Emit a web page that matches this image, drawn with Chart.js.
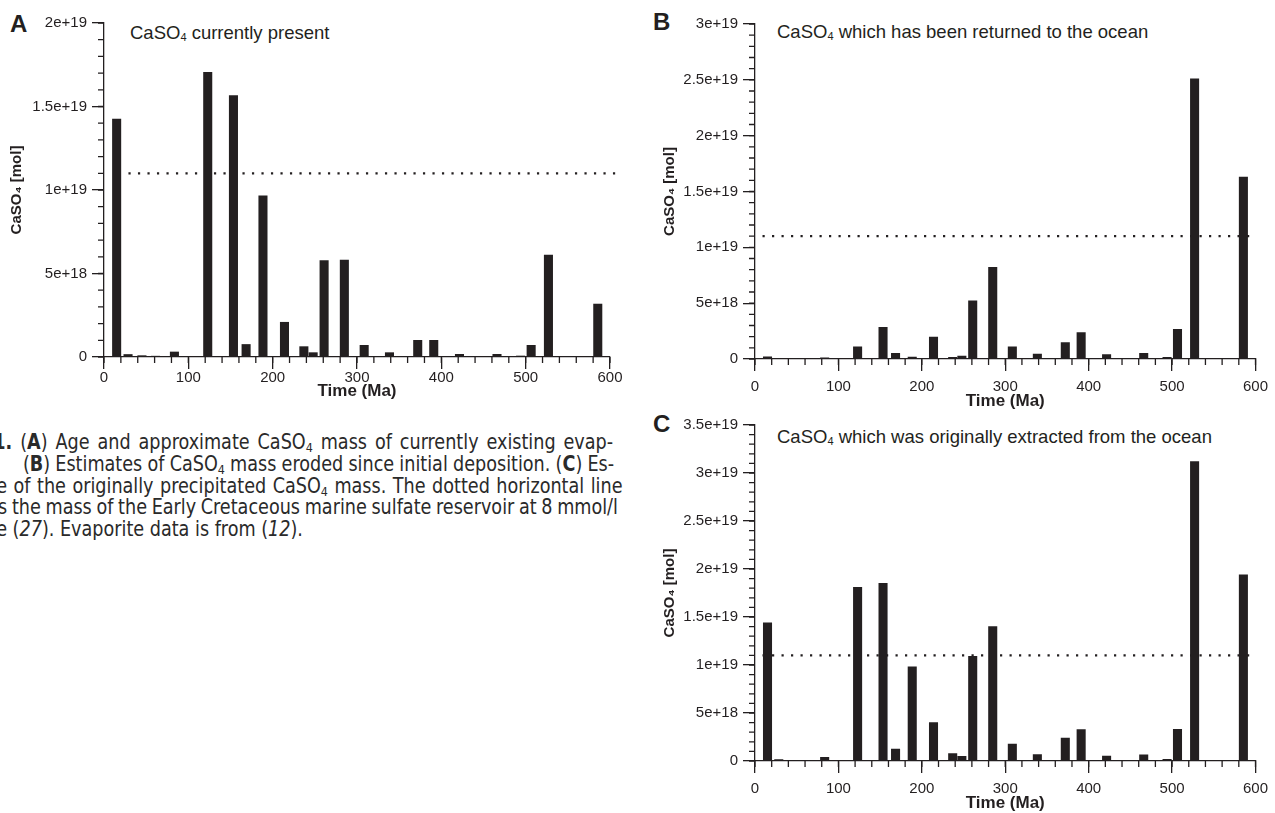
<!DOCTYPE html>
<html>
<head>
<meta charset="utf-8">
<script src="https://cdn.jsdelivr.net/npm/chart.js@4.4.0/dist/chart.umd.min.js"></script>
<style>
  body { margin: 0; background: #fff; width: 1275px; height: 813px; overflow: hidden; position: relative;
         font-family: 'Liberation Sans', Arial, sans-serif; color: #231f20; }
  .panel { position: absolute; }
  .letter { position: absolute; font-weight: bold; font-size: 24px; line-height: 1; }
  .ptitle { position: absolute; font-size: 18.5px; line-height: 1; white-space: nowrap; }
  .ptitle sub { font-size: 11px; vertical-align: -2px; line-height: 0; }
  .caption { position: absolute; left: 0; top: 432px; font-family: 'DejaVu Sans Condensed', 'Liberation Sans Narrow', sans-serif;
             font-size: 20.5px; color: #2a2a2a; transform: scaleX(0.955); transform-origin: 0 0; }
  .caption div { position: relative; white-space: nowrap; height: 21.8px; line-height: 21.8px; }
  .caption span { display: inline-block; }
  .caption sub { font-size: 13px; vertical-align: -3px; line-height: 0; }
</style>
</head>
<body>

<div class="letter" style="left:10px;top:12px">A</div>
<div class="letter" style="left:653px;top:10px">B</div>
<div class="letter" style="left:653px;top:412px">C</div>

<div class="ptitle" style="left:130px;top:24px">CaSO<sub>4</sub> currently present</div>
<div class="ptitle" style="left:777px;top:23px">CaSO<sub>4</sub> which has been returned to the ocean</div>
<div class="ptitle" style="left:777px;top:428px">CaSO<sub>4</sub> which was originally extracted from the ocean</div>

<div class="panel" style="left:0;top:0"><canvas id="chartA" width="640" height="423"></canvas></div>
<div class="panel" style="left:650px;top:0"><canvas id="chartB" width="625" height="425"></canvas></div>
<div class="panel" style="left:650px;top:400px"><canvas id="chartC" width="625" height="427"></canvas></div>

<div class="caption">
  <div style="left:-7px"><span data-w="620"><b>1.</b> (<b>A</b>) Age and approximate CaSO<sub>4</sub> mass of currently existing evap-</span></div>
  <div style="left:24px"><span data-w="591">(<b>B</b>) Estimates of CaSO<sub>4</sub> mass eroded since initial deposition. (<b>C</b>) Es-</span></div>
  <div style="left:-4px"><span data-w="626">e of the originally precipitated CaSO<sub>4</sub> mass. The dotted horizontal line</span></div>
  <div style="left:-2px"><span data-w="620">s the mass of the Early Cretaceous marine sulfate reservoir at 8 mmol/l</span></div>
  <div style="left:-4px"><span>e (<i>27</i>). Evaporite data is from (<i>12</i>).</span></div>
</div>

<script>
// evaporite age bins (Ma) - centre of each bar
const ages = [15, 28.5, 45, 61, 83.5, 123, 153.5, 168.5, 188.5, 214, 237, 248, 261, 285,
              308.5, 338.5, 372, 391, 406, 421.5, 466, 494, 506.5, 527, 585.5];

// CaSO4 [mol]
const present  = [14.25e18, 0.15e18, 0.08e18, 0.05e18, 0.3e18, 17.05e18, 15.65e18, 0.75e18, 9.65e18, 2.08e18,
                  0.62e18, 0.26e18, 5.77e18, 5.8e18, 0.7e18, 0.26e18, 1.0e18, 1.0e18, 0.04e18, 0.16e18,
                  0.16e18, 0.06e18, 0.7e18, 6.1e18, 3.17e18];
const returned = [0.2e18, 0.03e18, 0.02e18, 0.02e18, 0.1e18, 1.1e18, 2.84e18, 0.5e18, 0.18e18, 1.97e18,
                  0.15e18, 0.27e18, 5.2e18, 8.2e18, 1.1e18, 0.45e18, 1.46e18, 2.36e18, 0.05e18, 0.4e18,
                  0.5e18, 0.15e18, 2.66e18, 25.1e18, 16.3e18];
const original = [14.4e18, 0.15e18, 0.08e18, 0.07e18, 0.38e18, 18.1e18, 18.5e18, 1.25e18, 9.8e18, 4.0e18,
                  0.77e18, 0.49e18, 10.9e18, 14.0e18, 1.77e18, 0.66e18, 2.4e18, 3.27e18, 0.07e18, 0.52e18,
                  0.63e18, 0.17e18, 3.3e18, 31.2e18, 19.4e18];

// Early Cretaceous marine sulfate reservoir (8 mmol/l)
const reservoir = 1.1e19;
const reservoirSpanA = [29, 614];
const reservoirSpanBC = [9, 597];

const yMaxA = 2e19, yMaxB = 3e19, yMaxC = 3.5e19;

const INK = '#231f20';
const FONT = "'Liberation Sans', Arial, Helvetica, sans-serif";

// small ticks every 20 Ma / 1e18 mol
const minorTicks = {
  id: 'minorTicks',
  afterDraw(chart) {
    const ctx = chart.ctx, x = chart.scales.x, y = chart.scales.y;
    ctx.save();
    ctx.strokeStyle = INK;
    ctx.lineWidth = 1.3;
    ctx.beginPath();
    for (let i = 0; i * 20 <= x.max; i++) {
      const px = x.getPixelForValue(i * 20);
      ctx.moveTo(px, y.bottom); ctx.lineTo(px, y.bottom + 6);
    }
    for (let i = 0; i * 1e18 <= y.max * 1.0001; i++) {
      const py = y.getPixelForValue(i * 1e18);
      ctx.moveTo(x.left - 6, py); ctx.lineTo(x.left, py);
    }
    ctx.stroke();
    ctx.restore();
  }
};

function makePanel(id, values, yMax, span, opt) {
  new Chart(document.getElementById(id), {
    type: 'bar',
    data: {
      datasets: [
        {
          type: 'bar',
          data: ages.map((a, i) => ({ x: a, y: values[i] })),
          backgroundColor: INK,
          borderWidth: 0,
          barThickness: 8.4,
          grouped: false
        },
        {
          type: 'line',
          data: span.map(a => ({ x: a, y: reservoir })),
          borderColor: INK,
          borderWidth: 2.2,
          borderDash: [2.2, 7.3],
          pointRadius: 0,
          fill: false,
          clip: false
        }
      ]
    },
    options: {
      responsive: false,
      animation: false,
      events: [],
      layout: { padding: { top: opt.top, right: opt.right, left: 0, bottom: 0 } },
      plugins: { legend: { display: false }, tooltip: { enabled: false } },
      scales: {
        x: {
          type: 'linear', min: 0, max: 600, offset: false,
          afterFit: s => { s.height = 66; },
          grid: { drawOnChartArea: false, offset: false, tickLength: 12, color: INK, lineWidth: 1.3 },
          border: { color: INK, width: 1.3 },
          ticks: { stepSize: 100, maxRotation: 0, autoSkip: false, padding: opt.xPad, color: INK,
                   font: { family: FONT, size: 15 } },
          title: { display: true, text: 'Time (Ma)', color: INK, padding: { top: 0, bottom: opt.xTitlePad },
                   font: { family: FONT, size: 17, weight: 'bold' } }
        },
        y: {
          min: 0, max: yMax,
          afterFit: s => { s.width = opt.axisW; },
          grid: { drawOnChartArea: false, tickLength: 12, color: INK, lineWidth: 1.3 },
          border: { color: INK, width: 1.3 },
          ticks: { stepSize: 5e18, padding: 5, color: INK, font: { family: FONT, size: 15 },
                   callback: v => v === 0 ? '0' : v.toExponential() },
          title: { display: true, text: 'CaSO\u2084 [mol]', color: INK, padding: { top: opt.titlePad, bottom: 0 },
                   font: { family: FONT, size: 15, weight: 'bold' } }
        }
      }
    },
    plugins: [minorTicks]
  });
}

makePanel('chartA', present, yMaxA, reservoirSpanA,
          { top: 23, right: 30, axisW: 104, titlePad: 8, xPad: 0, xTitlePad: 21 });
makePanel('chartB', returned, yMaxB, reservoirSpanBC,
          { top: 24, right: 13, axisW: 105, titlePad: 10.5, xPad: 7, xTitlePad: 13 });
makePanel('chartC', original, yMaxC, reservoirSpanBC,
          { top: 25, right: 13, axisW: 105, titlePad: 10.5, xPad: 7, xTitlePad: 13 });

// justify caption lines to their column width (caption box is scaled horizontally)
const capScale = 0.955;
document.querySelectorAll('.caption span[data-w]').forEach(el => {
  const target = +el.dataset.w / capScale;
  const spaces = (el.textContent.match(/ /g) || []).length;
  const natural = el.offsetWidth;
  el.style.wordSpacing = ((target - natural) / spaces) + 'px';
});
</script>
</body>
</html>
